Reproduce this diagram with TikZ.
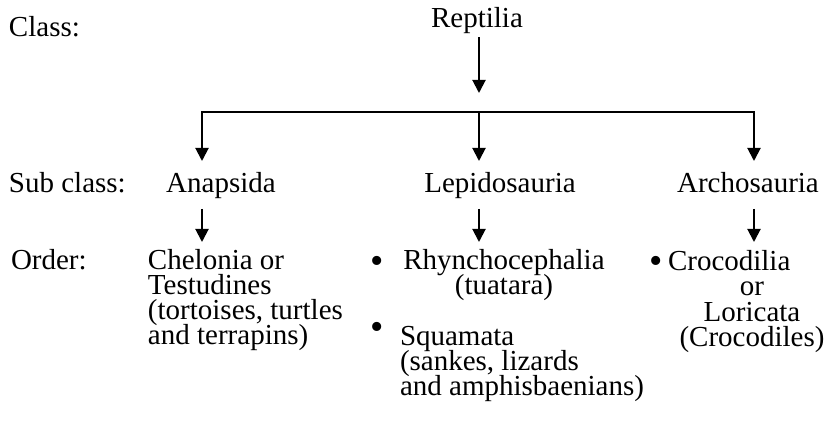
\documentclass[tikz,border=0pt]{standalone}
\usepackage{fontspec}
\setmainfont{Liberation Serif}
\usetikzlibrary{arrows.meta}

\begin{document}
\begin{tikzpicture}[x=0.5pt,y=-0.5pt,>={Triangle[length=6.5pt,width=6.5pt]},line width=1pt,
 every node/.style={inner sep=0pt,font={\fontsize{14.5}{12.6}\selectfont\lineskiplimit=-5pt\relax}},
 rowlabel/.style={anchor=base west},
 taxon/.style={anchor=base,text height=15.5pt,text depth=7.5pt},
 order/.style={anchor=north,execute at begin node=\rule{0pt}{11pt}},
 dot/.style={font={\fontsize{19}{19}\selectfont}}]
\useasboundingbox (0,0) rectangle (832,432);
\coordinate (hl) at (202,112); \coordinate (hm) at (479,112); \coordinate (hr) at (754,112);
% rank labels
\node[rowlabel] (cls) at (8,37) {Class:};
\node[rowlabel] (scl) at (8,193) {Sub class:};
\node[rowlabel] (ord) at (10,270) {Order:};
% class and sub classes
\node[anchor=base] (rep) at (477,28) {Reptilia};
\node[taxon] (ana) at (221,193) {Anapsida};
\node[taxon] (lep) at (500,193) {Lepidosauria};
\node[taxon] (arc) at (748,193) {Archosauria};
% orders
\node[order,anchor=north west,align=left] (chel) at (147,248) {Chelonia or\\Testudines\\(tortoises, turtles\\and terrapins)};
\node[order,align=center] (rhy) at (504,248) {Rhynchocephalia\\(tuatara)};
\node[order,anchor=north west,align=left] (squ) at (399,325) {Squamata\\(sankes, lizards\\and amphisbaenians)};
\node[order,anchor=north west] (croc) at (667,248) {Crocodilia};
\node[order,align=center] (lor) at (752,273) {\rule{0pt}{11pt}or\\Loricata\\(Crocodiles)};
\node[dot] (d1) at (377,265) {\textbullet};
\node[dot] (d2) at (377,331) {\textbullet};
\node[dot] (d3) at (656,265) {\textbullet};
\draw[->,shorten <=1pt,shorten >=9.5pt] (rep.south -| hm) -- (hm);
\draw[->] (hm) -- (hl) -- (ana.north -| hl);
\draw[->] (hm) -- (hr) -- (arc.north -| hr);
\draw[->] (hm) -- (lep.north -| hm);
\draw[->,shorten >=3pt] (ana.south -| hl) -- (chel.north -| hl);
\draw[->,shorten >=3pt] (lep.south -| hm) -- (rhy.north -| hm);
\draw[->,shorten >=3pt] (arc.south -| hr) -- (croc.north -| hr);
\end{tikzpicture}
\end{document}
